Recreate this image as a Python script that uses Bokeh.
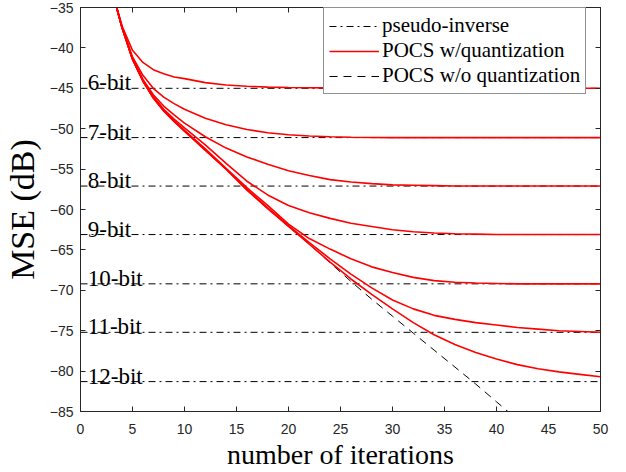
from bokeh.plotting import figure
from bokeh.models import (Range1d, FixedTicker, LinearAxis, Legend, LegendItem,
                          CustomJSTickFormatter, ColumnDataSource)
from bokeh.core.properties import value
from bokeh.embed import file_html
from bokeh.resources import INLINE

# ---------------- data ----------------
iters = [3, 4, 5, 6, 7, 8, 9, 10, 12, 14, 16, 18, 20, 22, 24, 26, 28, 30,
         32, 34, 36, 38, 40, 42, 44, 46, 48, 50]

mse_6bit = [-32.8, -37.3, -40.3, -41.8, -42.7, -43.2, -43.6, -43.8, -44.3, -44.6,
            -44.75, -44.85, -44.9, -44.93, -44.95, -44.97, -44.98, -45.0, -45.0,
            -45.0, -45.0, -45.0, -45.0, -45.0, -45.0, -45.0, -45.0, -45.0]
mse_7bit = [-32.8, -37.5, -41.1, -43.4, -45.0, -46.1, -46.9, -47.6, -48.7, -49.5,
            -50.1, -50.5, -50.75, -50.9, -51.0, -51.05, -51.08, -51.1, -51.1,
            -51.1, -51.1, -51.1, -51.1, -51.1, -51.1, -51.1, -51.1, -51.1]
mse_8bit = [-32.8, -37.5, -41.3, -43.9, -45.8, -47.2, -48.3, -49.3, -51.0, -52.4,
            -53.5, -54.4, -55.2, -55.8, -56.3, -56.6, -56.8, -56.95, -57.0,
            -57.05, -57.1, -57.1, -57.1, -57.1, -57.1, -57.1, -57.1, -57.1]
mse_9bit = [-32.8, -37.5, -41.4, -44.0, -46.0, -47.6, -48.8, -49.9, -52.0, -54.3,
            -56.5, -58.2, -59.5, -60.4, -61.1, -61.7, -62.1, -62.5, -62.75,
            -62.9, -63.0, -63.05, -63.1, -63.1, -63.1, -63.1, -63.1, -63.1]
mse_10bit = [-32.8, -37.5, -41.4, -44.1, -46.1, -47.7, -49.0, -50.2, -52.5, -54.9,
             -57.3, -59.5, -61.8, -63.6, -64.9, -66.1, -67.1, -67.8, -68.4,
             -68.8, -69.0, -69.1, -69.15, -69.2, -69.2, -69.2, -69.2, -69.2]
mse_11bit = [-32.8, -37.5, -41.4, -44.1, -46.2, -47.8, -49.1, -50.3, -52.6, -55.0,
             -57.5, -59.8, -62.0, -64.1, -66.1, -68.0, -69.7, -71.2, -72.3,
             -73.1, -73.6, -74.0, -74.3, -74.6, -74.8, -75.0, -75.1, -75.2]
mse_12bit = [-32.8, -37.5, -41.4, -44.1, -46.2, -47.8, -49.1, -50.3, -52.7, -55.0,
             -57.6, -59.9, -62.1, -64.3, -66.5, -68.6, -70.5, -72.3, -74.0,
             -75.5, -76.7, -77.7, -78.5, -79.2, -79.7, -80.1, -80.4, -80.7]

iters_noq = [3, 4, 5, 6, 7, 8, 9, 10, 12, 14, 16, 18, 20, 22, 24, 26, 28, 30,
             32, 34, 36, 38, 40, 42]
mse_noq = [-32.8, -37.5, -41.4, -44.1, -46.2, -47.8, -49.1, -50.3, -52.7, -55.0,
           -57.6, -59.9, -62.1, -64.3, -66.6, -68.9, -71.1, -73.2, -75.3, -77.4,
           -79.5, -81.6, -83.8, -86.0]

bit_labels = ["6-bit", "7-bit", "8-bit", "9-bit", "10-bit", "11-bit", "12-bit"]
pinv_mse = [-45.0, -51.1, -57.1, -63.1, -69.2, -75.2, -81.3]
x_span = [0, 50]

x_ticks = [0, 5, 10, 15, 20, 25, 30, 35, 40, 45, 50]
y_ticks = [-85, -80, -75, -70, -65, -60, -55, -50, -45, -40, -35]

quantized = [mse_6bit, mse_7bit, mse_8bit, mse_9bit, mse_10bit, mse_11bit, mse_12bit]

# ---------------- figure ----------------
AX = "#262626"
SERIF = "Liberation Serif"

p = figure(width=626, height=472, output_backend="svg", toolbar_location=None,
           x_range=Range1d(0, 50), y_range=Range1d(-85, -35),
           min_border_left=80, min_border_right=26, min_border_top=7,
           min_border_bottom=60)
p.background_fill_color = "white"
p.border_fill_color = "white"
p.outline_line_color = AX
p.xgrid.visible = False
p.ygrid.visible = False

for ax, ticks in ((p.xaxis[0], x_ticks), (p.yaxis[0], y_ticks)):
    ax.ticker = FixedTicker(ticks=ticks)
    ax.major_tick_in = 5
    ax.major_tick_out = 0
    ax.minor_tick_line_color = None
    ax.axis_line_color = AX
    ax.major_tick_line_color = AX
    ax.major_label_text_color = AX
    ax.major_label_text_font = "Liberation Sans"
    ax.major_label_text_font_size = "14px"
    ax.axis_label_text_font = SERIF
    ax.axis_label_text_font_style = "normal"
    ax.axis_label_text_color = "black"

p.xaxis.axis_label = "number of iterations"
p.yaxis.axis_label = "MSE (dB)"
p.xaxis.axis_label_text_font_size = "28px"
p.yaxis.axis_label_text_font_size = "34px"
p.xaxis.major_label_standoff = 12
p.yaxis.major_label_standoff = 7
p.xaxis.axis_label_standoff = 2
p.yaxis.axis_label_standoff = 6

# box ticks on top and right
blank = CustomJSTickFormatter(code="return ''")
top_ax = LinearAxis(ticker=FixedTicker(ticks=x_ticks), formatter=blank,
                    major_tick_in=5, major_tick_out=0, minor_tick_line_color=None,
                    axis_line_color=AX, major_tick_line_color=AX,
                    major_label_standoff=0)
right_ax = LinearAxis(ticker=FixedTicker(ticks=y_ticks), formatter=blank,
                      major_tick_in=5, major_tick_out=0, minor_tick_line_color=None,
                      axis_line_color=AX, major_tick_line_color=AX,
                      major_label_standoff=0)
p.add_layout(top_ax, "above")
p.add_layout(right_ax, "right")

# pseudo-inverse reference lines
pinv_src = ColumnDataSource(dict(xs=[x_span for _ in pinv_mse],
                                 ys=[[v, v] for v in pinv_mse]))
r_pinv = p.multi_line("xs", "ys", source=pinv_src, line_color="black",
                      line_width=1, line_dash="7 4 2 4")

# bit labels (sitting on their reference line)
lab_src = ColumnDataSource(dict(x=[0.7] * len(pinv_mse), y=pinv_mse, t=bit_labels))
p.text("x", "y", text="t", source=lab_src, text_font=value(SERIF),
       text_font_size="23px", text_color="black", text_baseline="bottom",
       text_align="left", y_offset=7)

# POCS w/o quantization
r_noq = p.line(iters_noq, mse_noq, line_color="black", line_width=1,
               line_dash="8 6")

# POCS w/ quantization
r_q = None
for ys in quantized:
    r = p.line(iters, ys, line_color="#ff0000", line_width=1.6)
    if r_q is None:
        r_q = r

legend = Legend(items=[LegendItem(label="pseudo-inverse", renderers=[r_pinv]),
                       LegendItem(label="POCS w/quantization", renderers=[r_q]),
                       LegendItem(label="POCS w/o quantization", renderers=[r_noq])],
                location=(243, 317))
legend.label_text_font = SERIF
legend.label_text_font_size = "21px"
legend.label_text_color = "black"
legend.glyph_width = 50
legend.glyph_height = 22
legend.label_height = 22
legend.label_standoff = 3
legend.spacing = 0
legend.padding = 5
legend.margin = 0
legend.border_line_color = AX
legend.border_line_width = 1
legend.background_fill_color = "white"
legend.background_fill_alpha = 1.0
p.add_layout(legend, "center")

open("out.html", "w").write(file_html(p, INLINE))
